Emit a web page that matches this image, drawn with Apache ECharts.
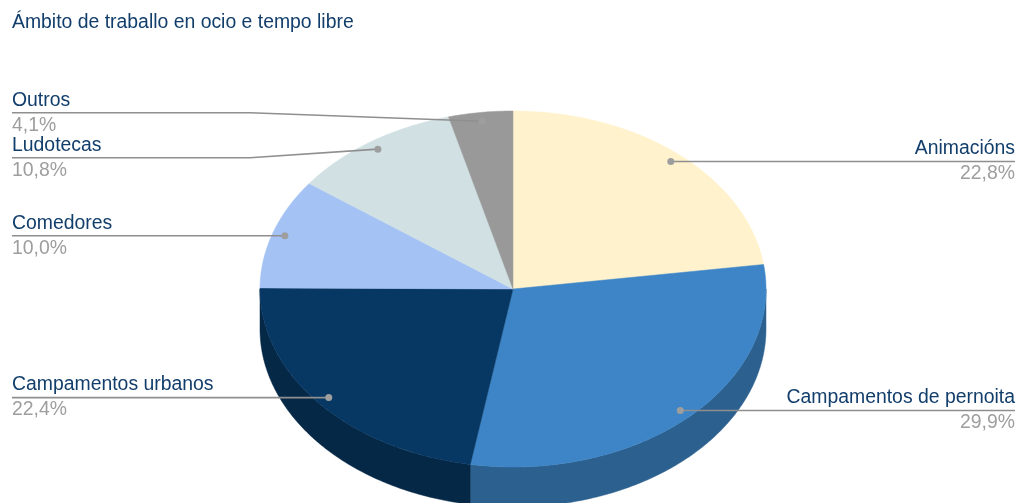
<!DOCTYPE html>
<html>
<head>
<meta charset="utf-8">
<script src="https://cdn.jsdelivr.net/npm/echarts@6/dist/echarts.min.js"></script>
<style>
html,body{margin:0;padding:0;background:#fff;}
#chart{width:1019px;height:503px;}
</style>
</head>
<body>
<div id="chart"></div>
<script>
var titleText = 'Ámbito de traballo en ocio e tempo libre';
var categories = ['Animacións', 'Campamentos de pernoita', 'Campamentos urbanos', 'Comedores', 'Ludotecas', 'Outros'];
var values = [22.8, 29.9, 22.4, 10.0, 10.8, 4.1];
var colors = ['#fff2cc', '#3d85c6', '#073763', '#a4c2f4', '#d0e0e3', '#999999'];

// layout (pixels)
var CX = 513, CY = 289, RX = 253, RY = 178, DEPTH = 40;
var LABEL_LEFT_X = 12, LABEL_RIGHT_X = 1015, LABEL_GAP = 45, DOT_F = 0.95;
var NAME_COLOR = '#123e6b', PCT_COLOR = '#9e9e9e', LINE_COLOR = '#8f8f8f';
var FONT = '19.4px "Liberation Sans", Arial, sans-serif';

var total = values.reduce(function (a, b) { return a + b; }, 0);
var starts = [], acc = 0;
values.forEach(function (v) { starts.push(acc / total * 2 * Math.PI); acc += v; });

function pt(theta, f, dy) {
  return [CX + RX * f * Math.sin(theta), CY - RY * f * Math.cos(theta) + (dy || 0)];
}
function darken(hex, k) {
  var n = parseInt(hex.slice(1), 16);
  var r = Math.round(((n >> 16) & 255) * k), g = Math.round(((n >> 8) & 255) * k), b = Math.round((n & 255) * k);
  return 'rgb(' + r + ',' + g + ',' + b + ')';
}

// label layout: dots and spread label lines
var labels = values.map(function (v, i) {
  var a0 = starts[i], a1 = a0 + v / total * 2 * Math.PI, mid = (a0 + a1) / 2;
  var d = pt(mid, DOT_F);
  return { i: i, dot: d, y: d[1], left: d[0] < CX };
});
[true, false].forEach(function (side) {
  var arr = labels.filter(function (l) { return l.left === side; }).sort(function (a, b) { return a.y - b.y; });
  for (var it = 0; it < 50; it++) {
    for (var k = 1; k < arr.length; k++) {
      var diff = arr[k].y - arr[k - 1].y;
      if (diff < LABEL_GAP) {
        var s = (LABEL_GAP - diff) / 2;
        arr[k].y += s; arr[k - 1].y -= s;
      }
    }
  }
});

function renderItem(params, api) {
  var i = params.dataIndex;
  var v = api.value(0);
  var a0 = starts[i], a1 = a0 + v / total * 2 * Math.PI;
  var children = [];
  var N = Math.max(8, Math.ceil((a1 - a0) / 0.01));
  // top face
  var top = [[CX, CY]];
  for (var k = 0; k <= N; k++) top.push(pt(a0 + (a1 - a0) * k / N, 1));
  // side wall (front half only: PI/2 .. 3PI/2)
  var s = Math.max(a0, Math.PI / 2), e = Math.min(a1, 3 * Math.PI / 2);
  if (e > s) {
    var M = Math.max(8, Math.ceil((e - s) / 0.01));
    var upper = [], lower = [];
    for (var m = 0; m <= M; m++) {
      var t = s + (e - s) * m / M;
      upper.push(pt(t, 1));
      lower.push(pt(t, 1, DEPTH));
    }
    var wall = upper.concat(lower.reverse());
    children.push({ type: 'polygon', z2: 1, shape: { points: wall },
      style: { fill: darken(colors[i], 0.72), stroke: darken(colors[i], 0.72), lineWidth: 0.5 } });
  }
  children.push({ type: 'polygon', z2: 2, shape: { points: top },
    style: { fill: colors[i], stroke: colors[i], lineWidth: 0.5 } });

  // label
  var L = labels[i];
  var lx = L.left ? LABEL_LEFT_X : LABEL_RIGHT_X;
  var pts;
  if (Math.abs(L.y - L.dot[1]) > 0.5) {
    var ex = L.left ? CX - RX - 10 : CX + RX + 10;
    pts = [[lx, L.y], [ex, L.y], L.dot];
  } else {
    pts = [[lx, L.y], L.dot];
  }
  children.push({ type: 'polyline', z2: 10, shape: { points: pts },
    style: { stroke: LINE_COLOR, lineWidth: 1.6, fill: null } });
  children.push({ type: 'circle', z2: 11, shape: { cx: L.dot[0], cy: L.dot[1], r: 3.5 },
    style: { fill: '#9e9e9e' } });
  var al = L.left ? 'left' : 'right';
  children.push({ type: 'text', z2: 12, style: { text: categories[i], x: lx, y: L.y - 12.5,
    font: FONT, fill: NAME_COLOR, align: al, verticalAlign: 'middle', textAlign: al, textVerticalAlign: 'middle' } });
  children.push({ type: 'text', z2: 12, style: { text: v.toFixed(1).replace('.', ',') + '%', x: lx, y: L.y + 12.5,
    font: FONT, fill: PCT_COLOR, align: al, verticalAlign: 'middle', textAlign: al, textVerticalAlign: 'middle' } });
  return { type: 'group', children: children };
}

var chart = echarts.init(document.getElementById('chart'));
chart.setOption({
  animation: false,
  title: {
    text: titleText, left: 12, top: 12, padding: 0,
    textStyle: { fontFamily: '"Liberation Sans", Arial, sans-serif', fontSize: 19.4, fontWeight: 'normal', color: NAME_COLOR, lineHeight: 22 }
  },
  series: [{
    type: 'custom',
    coordinateSystem: 'none',
    renderItem: renderItem,
    data: values.map(function (v, i) { return { value: [v], name: categories[i] }; })
  }]
});
</script>
</body>
</html>
